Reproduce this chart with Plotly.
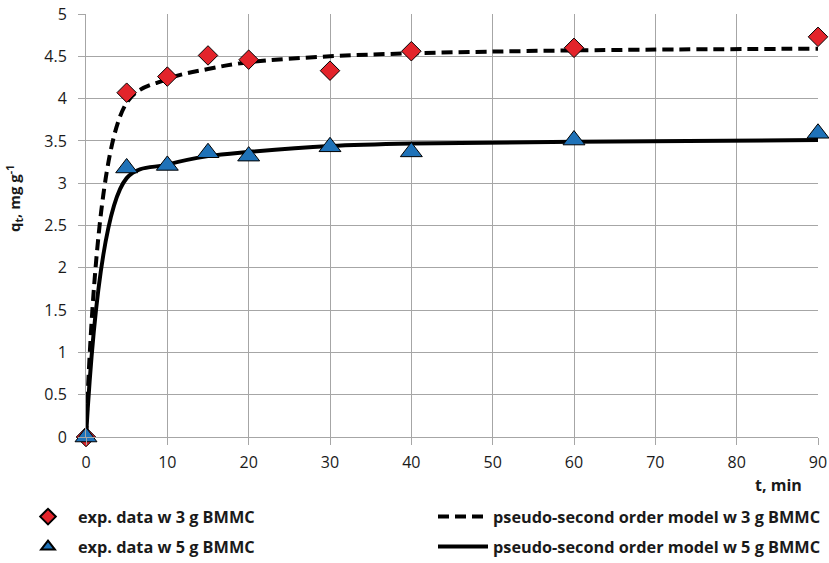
import plotly.graph_objects as go

# ---- data ----
t_exp = [0, 5, 10, 15, 20, 30, 40, 60, 90]
q_exp_3g = [0, 4.07, 4.26, 4.51, 4.46, 4.33, 4.56, 4.60, 4.73]
q_exp_5g = [0, 3.18, 3.21, 3.36, 3.32, 3.43, 3.37, 3.51, 3.59]

t_model = [0, 5, 10, 15, 20, 30, 40, 60, 90]
q_model_3g = [0, 3.95, 4.23, 4.35, 4.43, 4.50, 4.535, 4.57, 4.59]
q_model_5g = [0, 3.06, 3.22, 3.32, 3.37, 3.44, 3.47, 3.49, 3.51]

x_ticks = [0, 10, 20, 30, 40, 50, 60, 70, 80, 90]
y_ticks = [0, 0.5, 1, 1.5, 2, 2.5, 3, 3.5, 4, 4.5, 5]

FONT = "Open Sans"
GRID = "#a6a6a6"
RED = "#e3242b"
BLUE = "#1f72b8"
TXT = "#1a1a1a"

fig = go.Figure()

fig.add_trace(go.Scatter(
    x=t_model, y=q_model_3g, mode="lines", name="pseudo-second order model w 3 g BMMC",
    line=dict(color="black", width=4, dash="11px,6px", shape="spline", smoothing=1),
    legend="legend2"))
fig.add_trace(go.Scatter(
    x=t_model, y=q_model_5g, mode="lines", name="pseudo-second order model w 5 g BMMC",
    line=dict(color="black", width=4, shape="spline", smoothing=1),
    legend="legend4"))
fig.add_trace(go.Scatter(
    x=t_exp, y=q_exp_3g, mode="markers", name="exp. data w 3 g BMMC",
    marker=dict(symbol="diamond", size=15, color=RED, line=dict(color="black", width=1)),
    cliponaxis=False, legend="legend"))
fig.add_trace(go.Scatter(
    x=t_exp, y=q_exp_5g, mode="markers", name="exp. data w 5 g BMMC",
    marker=dict(symbol="triangle-up", size=19, color=BLUE, line=dict(color="black", width=1)),
    cliponaxis=False, legend="legend3"))

W, H = 829, 563
L, R, T, B = 86, 11, 14, 126
pw = W - L - R
ph = H - T - B

def px_x(p):
    return (p - L) / pw

def px_y(p):
    return (H - B - p) / ph

legend_font = dict(family=FONT, size=16.3, color=TXT, weight="bold")
common = dict(font=legend_font, bgcolor="rgba(0,0,0,0)", xanchor="left", yanchor="middle",
              orientation="v")

fig.update_layout(
    width=W, height=H,
    margin=dict(l=L, r=R, t=T, b=B, autoexpand=False),
    plot_bgcolor="white", paper_bgcolor="white",
    font=dict(family=FONT, size=16, color=TXT),
    showlegend=True,
    legend=dict(x=px_x(18), y=px_y(517), itemwidth=50, itemsizing="constant", **common),
    legend3=dict(x=px_x(18), y=px_y(547), itemwidth=50, itemsizing="constant", **common),
    legend2=dict(x=px_x(433), y=px_y(517), itemwidth=50, **common),
    legend4=dict(x=px_x(433), y=px_y(547), itemwidth=50, **common),
    xaxis=dict(range=[0, 90], tickvals=x_ticks, showgrid=True, gridcolor=GRID, gridwidth=1,
               showline=True, linecolor=GRID, ticks="outside", ticklen=7, tickcolor=GRID,
               ticklabelstandoff=4,
               zeroline=False, tickfont=dict(family=FONT, size=16, color=TXT)),
    yaxis=dict(range=[0, 5], tickvals=y_ticks, ticktext=[str(v) for v in y_ticks],
               showgrid=True, gridcolor=GRID, gridwidth=1,
               showline=True, linecolor=GRID, ticks="outside", ticklen=7, tickcolor=GRID,
               ticklabelstandoff=8,
               zeroline=False, tickfont=dict(family=FONT, size=16, color=TXT)),
    annotations=[
        dict(text="t, min", x=px_x(804), y=px_y(485), xref="paper", yref="paper",
             xanchor="right", yanchor="middle", showarrow=False,
             font=dict(family=FONT, size=16, color=TXT, weight="bold")),
        dict(text="q<sub>t</sub>, mg g<sup>-1</sup>", x=px_x(15), y=px_y(199),
             xref="paper", yref="paper", xanchor="center", yanchor="middle",
             textangle=-90, showarrow=False,
             font=dict(family=FONT, size=15, color=TXT, weight="bold")),
    ],
)

fig.write_html("out.html")
